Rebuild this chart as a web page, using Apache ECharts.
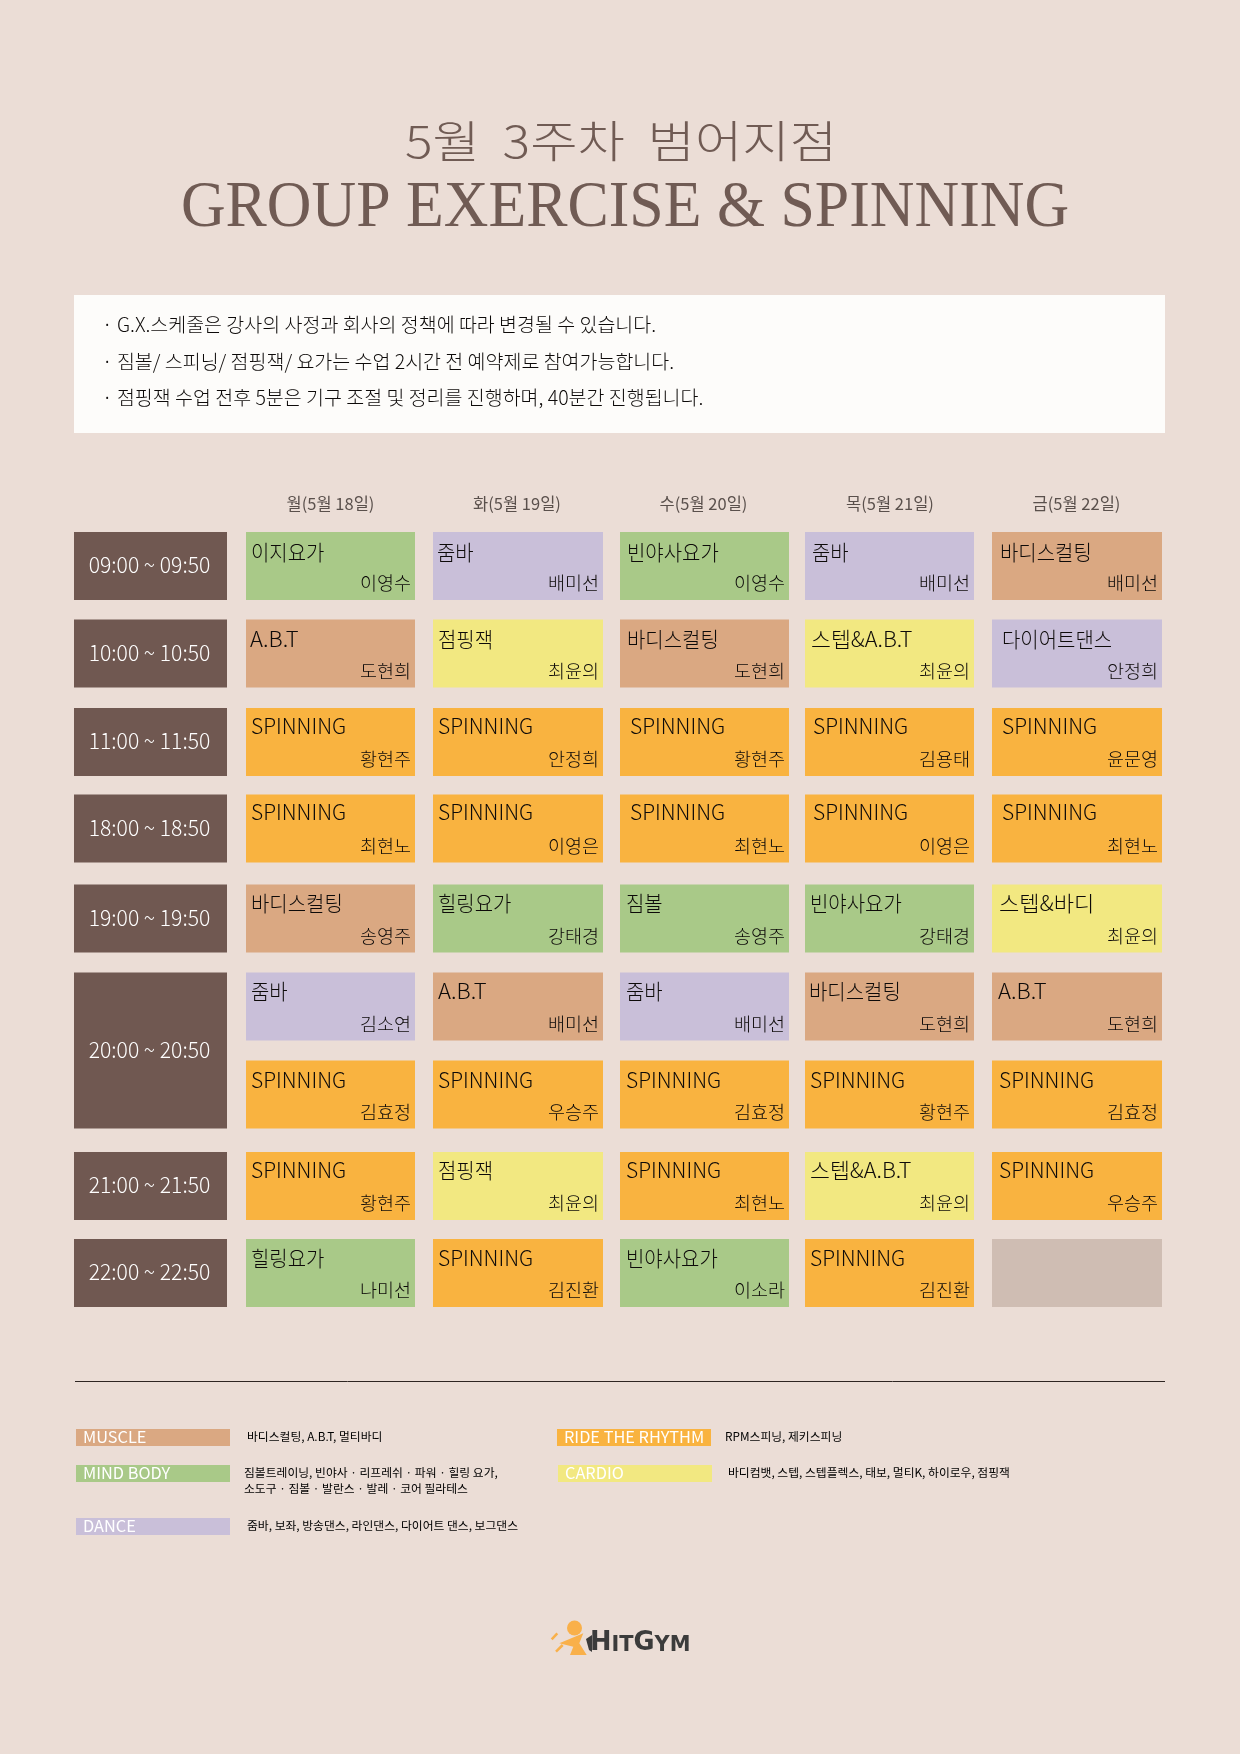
<!DOCTYPE html>
<html>
<head>
<meta charset="utf-8">
<style>html,body{margin:0;padding:0;background:#ebddd6}#chart{width:1240px;height:1754px}</style>
<script src="https://cdn.jsdelivr.net/npm/echarts@6/dist/echarts.min.js"></script>
</head>
<body>
<div id="chart"></div>
<script>
// table data
const days = ['', '월(5월 18일)', '화(5월 19일)', '수(5월 20일)', '목(5월 21일)', '금(5월 22일)'];
const rowKeys = ['09', '10', '11', '18', '19', '20a', '20b', '21', '22'];
const timeSlots = ['09:00 ~ 09:50', '10:00 ~ 10:50', '11:00 ~ 11:50', '18:00 ~ 18:50', '19:00 ~ 19:50', '20:00 ~ 20:50', '21:00 ~ 21:50', '22:00 ~ 22:50'];
const timeSlotRows = [0, 1, 2, 3, 4, 5, 7, 8];
const timeSlotSpans = [1, 1, 1, 1, 1, 2, 1, 1];
const classNames = [
  ['이지요가', '줌바', '빈야사요가', '줌바', '바디스컬팅'],
  ['A.B.T', '점핑잭', '바디스컬팅', '스텝&A.B.T', '다이어트댄스'],
  ['SPINNING', 'SPINNING', 'SPINNING', 'SPINNING', 'SPINNING'],
  ['SPINNING', 'SPINNING', 'SPINNING', 'SPINNING', 'SPINNING'],
  ['바디스컬팅', '힐링요가', '짐볼', '빈야사요가', '스텝&바디'],
  ['줌바', 'A.B.T', '줌바', '바디스컬팅', 'A.B.T'],
  ['SPINNING', 'SPINNING', 'SPINNING', 'SPINNING', 'SPINNING'],
  ['SPINNING', '점핑잭', 'SPINNING', '스텝&A.B.T', 'SPINNING'],
  ['힐링요가', 'SPINNING', '빈야사요가', 'SPINNING', '']
];
const teachers = [
  ['이영수', '배미선', '이영수', '배미선', '배미선'],
  ['도현희', '최윤의', '도현희', '최윤의', '안정희'],
  ['황현주', '안정희', '황현주', '김용태', '윤문영'],
  ['최현노', '이영은', '최현노', '이영은', '최현노'],
  ['송영주', '강태경', '송영주', '강태경', '최윤의'],
  ['김소연', '배미선', '배미선', '도현희', '도현희'],
  ['김효정', '우승주', '김효정', '황현주', '김효정'],
  ['황현주', '최윤의', '최현노', '최윤의', '우승주'],
  ['나미선', '김진환', '이소라', '김진환', '']
];

// legend data
const groupNames = ['MUSCLE', 'MIND BODY', 'DANCE', 'RIDE THE RHYTHM', 'CARDIO'];
const groupNotes = [
  '바디스컬팅, A.B.T, 멀티바디',
  '짐볼트레이닝, 빈야사 · 리프레쉬 · 파워 · 힐링 요가,\n소도구 · 짐볼 · 발란스 · 발레 · 코어 필라테스',
  '줌바, 보좌, 방송댄스, 라인댄스, 다이어트 댄스, 보그댄스',
  'RPM스피닝, 제키스피닝',
  '바디컴뱃, 스텝, 스텝플렉스, 태보, 멀티K, 하이로우, 점핑잭'
];
const notices = [
  '· G.X.스케줄은 강사의 사정과 회사의 정책에 따라 변경될 수 있습니다.',
  '· 짐볼/ 스피닝/ 점핑잭/ 요가는 수업 2시간 전 예약제로 참여가능합니다.',
  '· 점핑잭 수업 전후 5분은 기구 조절 및 정리를 진행하며, 40분간 진행됩니다.'
];

// colours and layout
const groupColors = { MUSCLE: '#daa882', 'MIND BODY': '#a9c988', DANCE: '#c9bfd9', 'RIDE THE RHYTHM': '#f9b340', CARDIO: '#f2e881' };
const classGroup = {
  '이지요가': 'MIND BODY', '빈야사요가': 'MIND BODY', '힐링요가': 'MIND BODY', '짐볼': 'MIND BODY',
  '줌바': 'DANCE', '다이어트댄스': 'DANCE',
  '바디스컬팅': 'MUSCLE', 'A.B.T': 'MUSCLE',
  '점핑잭': 'CARDIO', '스텝&A.B.T': 'CARDIO', '스텝&바디': 'CARDIO',
  'SPINNING': 'RIDE THE RHYTHM'
};
const nameStretch = { 'SPINNING': 1, 'A.B.T': 1.05, '스텝&A.B.T': 1.03, '스텝&바디': 1.05 };
const KR = '"Noto Sans CJK KR"';
const INK = '#0d0a09';
const colNudge = [6.5, 0, 1, 1, -0.5, 0.5];
const colWidth = [153, 169, 170, 169, 169, 170];
const rowNudge = [0, -0.7, -0.4, -2.1, -0.3, -0.5, -0.7, 2.6, 1.4];
const nameRise = [1, 1, 3, 3, 2, 2, 1, 3, 2];
const cellH = 68;
const nameIndent = [
  [5, 4, 7, 7, 8],
  [4, 5, 7, 6, 10],
  [5, 5, 10, 8, 10],
  [5, 5, 10, 8, 10],
  [5, 5, 6, 5, 7],
  [5, 5, 6, 4, 6],
  [5, 5, 6, 5, 7],
  [5, 5, 6, 5, 7],
  [5, 5, 6, 5, 7]
];

const cellData = [];
classNames.forEach((r, row) => r.forEach((_, i) => cellData.push([i + 1, row])));
const slotData = timeSlots.map((_, i) => [0, timeSlotRows[i]]);

function cellBox(api, col, row) {
  const c = api.coord([col, row]);
  return { x: c[0] + colNudge[col] - colWidth[col] / 2, y: c[1] + rowNudge[row] - cellH / 2, w: colWidth[col] };
}

function renderCell(params, api) {
  const col = api.value(0), row = api.value(1);
  const b = cellBox(api, col, row);
  const name = classNames[row][col - 1];
  return {
    type: 'group',
    children: [
      { type: 'rect', shape: { x: b.x, y: b.y, width: b.w, height: cellH }, style: { fill: name ? groupColors[classGroup[name]] : '#cfbdb3' } },
      { type: 'text', x: b.x + nameIndent[row][col - 1], y: b.y + 21 - nameRise[row], scaleX: nameStretch[name] || 0.95,
        style: { text: name, fill: INK, font: '300 21px ' + KR, align: 'left', verticalAlign: 'middle' } },
      { type: 'text', x: b.x + b.w - 4, y: b.y + 51,
        style: { text: teachers[row][col - 1], fill: INK, font: '300 18.5px ' + KR, align: 'right', verticalAlign: 'middle' } }
    ]
  };
}

function renderSlot(params, api) {
  const i = params.dataIndex;
  const top = cellBox(api, 0, timeSlotRows[i]);
  const bottom = cellBox(api, 0, timeSlotRows[i] + timeSlotSpans[i] - 1);
  const h = bottom.y + cellH - top.y;
  return {
    type: 'group',
    children: [
      { type: 'rect', shape: { x: top.x, y: top.y, width: top.w, height: h }, style: { fill: '#705851' } },
      { type: 'text', x: top.x + top.w / 2 - 1, y: top.y + h / 2 - 1, scaleX: 0.96,
        style: { text: timeSlots[i], fill: '#ffffff', font: '300 22px ' + KR, align: 'center', verticalAlign: 'middle' } }
    ]
  };
}

// legend swatches and their notes
const legendPos = [[76, 1429, 247], [76, 1465, 244], [76, 1518, 247], [557, 1429, 725], [558, 1465, 728]];
const legendGraphics = [];
groupNames.forEach((name, i) => {
  const p = legendPos[i];
  legendGraphics.push(
    { type: 'rect', shape: { x: p[0], y: p[1], width: 154, height: 17 }, style: { fill: groupColors[name] } },
    { type: 'text', x: p[0] + 7, y: p[1] + 8, scaleX: 1.02, style: { text: name, fill: '#ffffff', font: '400 16px ' + KR, verticalAlign: 'middle' } },
    { type: 'text', x: p[2], y: p[1], style: { text: groupNotes[i], fill: '#000000', font: '400 11.8px ' + KR, lineHeight: 16 } }
  );
});

const noticeGraphics = notices.map((t, i) => ({
  type: 'text', x: 102, y: 325 + i * 36.5, style: { text: t, fill: INK, font: '300 19.5px ' + KR, verticalAlign: 'middle' }
}));

const logoGraphics = [
  { type: 'circle', shape: { cx: 574.5, cy: 1628, r: 7.5 }, style: { fill: '#f9b04a' } },
  { type: 'polygon', shape: { points: [[559.3, 1643.3], [583.3, 1633.3], [579.3, 1643.3], [586.7, 1655], [570, 1655], [573.3, 1646.7]] }, style: { fill: '#f9b04a' } },
  { type: 'line', shape: { x1: 551.7, y1: 1639.3, x2: 557.3, y2: 1633.3 }, style: { stroke: '#f9b04a', lineWidth: 2.5 } },
  { type: 'line', shape: { x1: 556, y1: 1651.7, x2: 562.7, y2: 1645 }, style: { stroke: '#f9b04a', lineWidth: 2.5 } },
  { type: 'polygon', shape: { points: [[586, 1639], [592, 1635], [592, 1652], [589, 1650]] }, style: { fill: '#3b3b3b' } },
  { type: 'text', x: 590, y: 1656, scaleX: 0.95, style: {
    text: '{a|H}{b|IT}{a|G}{b|YM}', verticalAlign: 'bottom',
    rich: {
      a: { font: '900 27px "DejaVu Sans"', fill: '#3b3b3b', verticalAlign: 'bottom' },
      b: { font: '900 22px "DejaVu Sans"', fill: '#3b3b3b', verticalAlign: 'bottom' }
    }
  } }
];

const chart = echarts.init(document.getElementById('chart'), null, { renderer: 'canvas' });
chart.setOption({
  animation: false,
  backgroundColor: '#ebddd6',
  grid: { left: 50.75, top: 521.9, width: 1119, height: 793.8 },
  xAxis: {
    type: 'category', position: 'top', data: days,
    axisLine: { show: false }, axisTick: { show: false },
    axisLabel: { interval: 0, margin: 10, color: '#5a504c', fontFamily: KR, fontSize: 16.5, fontWeight: 400 }
  },
  yAxis: { type: 'category', inverse: true, data: rowKeys, show: false },
  graphic: { elements: [
    { type: 'text', x: 621, y: 141, scaleX: 1.17, style: { text: '5월  3주차  범어지점', fill: '#705b54', font: '300 44px ' + KR, align: 'center', verticalAlign: 'middle' } },
    { type: 'text', x: 625, y: 209, scaleX: 0.937, style: { text: 'GROUP EXERCISE & SPINNING', fill: '#705b54', font: '66px "Liberation Serif"', align: 'center', verticalAlign: 'middle' } },
    { type: 'rect', shape: { x: 74, y: 295, width: 1091, height: 138 }, style: { fill: '#fdfcfa' } },
    ...noticeGraphics,
    { type: 'line', shape: { x1: 75, y1: 1381.5, x2: 1165, y2: 1381.5 }, style: { stroke: '#2e2522', lineWidth: 1 } },
    ...legendGraphics,
    ...logoGraphics
  ] },
  series: [
    { type: 'custom', name: 'slots', data: slotData, renderItem: renderSlot, silent: true },
    { type: 'custom', name: 'classes', data: cellData, renderItem: renderCell, silent: true }
  ]
});
</script>
</body>
</html>
